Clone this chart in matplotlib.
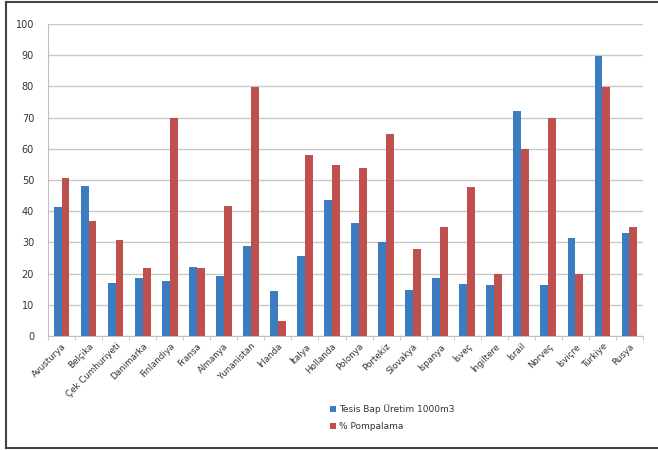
import matplotlib
matplotlib.use("Agg")
import matplotlib.pyplot as plt
import numpy as np
from matplotlib.lines import Line2D

countries = ["Avusturya", "Belçika", "Çek Cumhuriyeti", "Danimarka", "Finlandiya",
             "Fransa", "Almanya", "Yunanistan", "İrlanda", "İtalya", "Hollanda",
             "Polonya", "Portekiz", "Slovakya", "İspanya", "İsveç", "İngiltere",
             "İsrail", "Norveç", "İsviçre", "Türkiye", "Rusya"]
uretim = [41.5, 48, 17, 18.5, 17.5, 22, 19.2, 28.8, 14.5, 25.5, 43.7,
          36.2, 30.2, 14.8, 18.5, 16.7, 16.2, 72, 16.3, 31.5, 89.8, 33]
pompalama = [50.8, 37, 30.7, 21.8, 70, 21.8, 41.8, 79.8, 4.8, 58, 54.8,
             53.7, 64.8, 28, 34.8, 47.6, 19.8, 59.8, 69.8, 19.8, 79.8, 34.8]
yticks = list(range(0, 101, 10))
legend_labels = ["Tesis Bap Üretim 1000m3", "% Pompalama"]

blue = "#3B7DC0"
red = "#C0504D"

fig = plt.figure(figsize=(6.58, 4.50), dpi=100)
ax = fig.add_axes([48/658, 1-336/450, (643-48)/658, (336-24)/450])

x = np.arange(len(countries))
w = 0.29
b1 = ax.bar(x - w/2, uretim, w, color=blue, label=legend_labels[0], zorder=3)
b2 = ax.bar(x + w/2, pompalama, w, color=red, label=legend_labels[1], zorder=3)

ax.set_xlim(-0.5, len(countries) - 0.5)
ax.set_ylim(0, 100)
ax.set_yticks(yticks)
ax.set_yticklabels([str(t) for t in yticks], fontsize=7, color="#333333")
ax.yaxis.grid(True, color="#c8c8c8", linewidth=1.0, zorder=0)
ax.tick_params(axis="y", length=0, pad=10)

ax.set_xticks(x)
ax.set_xticklabels(countries, rotation=45, ha="right", rotation_mode="anchor",
                   fontsize=6.3, color="#333333")
ax.tick_params(axis="x", length=0, pad=4)
ax.set_xticks(np.arange(-0.5, len(countries)), minor=True)
ax.tick_params(axis="x", which="minor", length=3, color="#c0c0c0")

for s in ["top", "right"]:
    ax.spines[s].set_visible(False)
ax.spines["left"].set_color("#c0c0c0")
ax.spines["bottom"].set_color("#c0c0c0")

fig.legend(handles=[b1, b2], labels=legend_labels, loc="upper left",
           bbox_to_anchor=(322/658, 1-396/450), frameon=False, fontsize=6.5,
           handlelength=0.6, handleheight=0.6, handletextpad=0.4,
           labelspacing=0.9, labelcolor="#333333")

# outer border
for (xs, ys) in [([6/658, 6/658], [2/450, 448/450]),
                 ([6/658, 1], [1-2/450, 1-2/450]),
                 ([6/658, 1], [2/450, 2/450])]:
    fig.add_artist(Line2D(xs, ys, color="#444444", linewidth=1.5,
                          transform=fig.transFigure))

fig.savefig("out.png", dpi=100)
